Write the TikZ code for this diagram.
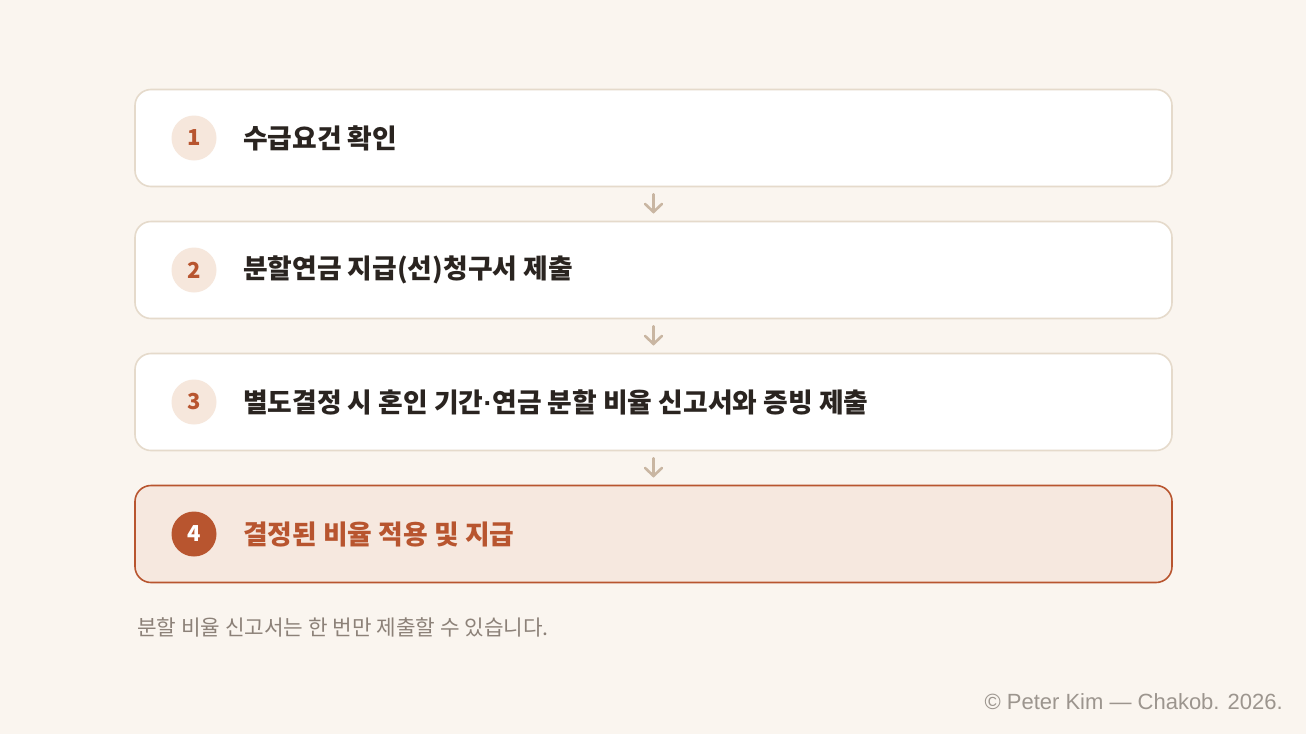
\documentclass[tikz,border=0pt]{standalone}
\usepackage{fontspec}
\setmainfont{Noto Sans CJK KR}
\newfontfamily\footfont{Liberation Sans}
\usetikzlibrary{arrows.meta,positioning}
\definecolor{paper}{HTML}{FAF5EF}
\definecolor{edgegray}{HTML}{E5DACB}
\definecolor{rust}{HTML}{B8552F}
\definecolor{blush}{HTML}{F6E8DF}
\definecolor{badgebg}{HTML}{F6E7DC}
\definecolor{arrowtan}{HTML}{C9B6A2}
\definecolor{inkdark}{HTML}{2A2420}
\definecolor{notegray}{HTML}{8C8178}
\definecolor{footgray}{HTML}{9C958E}
\begin{document}
\begin{tikzpicture}[x=1pt, y=-1pt,
  stepbox/.style={draw=edgegray, line width=1.6pt, fill=white, rounded corners=16pt,
    minimum width=1037pt, minimum height=97pt, inner sep=0pt},
  lastbox/.style={stepbox, draw=rust, fill=blush},
  badge/.style={circle, fill=badgebg, minimum size=45pt, inner sep=0pt,
    text=rust, font=\fontsize{22}{26}\selectfont\bfseries},
  lastbadge/.style={badge, fill=rust, text=white},
  steptext/.style={anchor=west, inner sep=0pt, text=inkdark,
    font=\fontsize{26.8}{30}\selectfont\bfseries},
  flow/.style={draw=arrowtan, line width=2.6pt, line cap=round,
    -{Straight Barb[length=8pt, width=17pt, line cap=round]}}]
 \useasboundingbox[fill=paper] (0,0) rectangle (1306,734);
 % steps
 \node[stepbox] (s1) at (653.5,138) {};
 \node[stepbox] (s2) at (653.5,270) {};
 \node[stepbox] (s3) at (653.5,402) {};
 \node[lastbox] (s4) at (653.5,534) {};
 \node[badge] (b1) at (194,138) {1};
 \node[badge] (b2) at (194,270) {2};
 \node[badge] (b3) at (194,402) {3};
 \node[lastbadge] (b4) at (194,534) {4};
 \node[steptext] (t1) at (243,138) {수급요건 확인};
 \node[steptext] (t2) at (243,270) {분할연금 지급(선)청구서 제출};
 \node[steptext] (t3) at (243,402) {별도결정 시 혼인 기간{\footfont·}연금 분할 비율 신고서와 증빙 제출};
 \node[steptext, text=rust] (t4) at (243,534) {결정된 비율 적용 및 지급};
 % arrows
 \path (s1.south) edge[flow, shorten <=7pt, shorten >=7pt] (s2.north);
 \path (s2.south) edge[flow, shorten <=7pt, shorten >=7pt] (s3.north);
 \path (s3.south) edge[flow, shorten <=7pt, shorten >=7pt] (s4.north);
 % note and footer
 \node[anchor=west, inner sep=0pt, text=notegray, font=\fontsize{21.3}{25}\selectfont]
   (note) at (137,627) {분할 비율 신고서는 한 번만 제출할 수 있습니다.};
 \node[anchor=east, inner sep=0pt, text=footgray, font=\footfont\fontsize{22}{26}\selectfont]
   (foot) at (1283,702) {© Peter Kim — Chakob. 2026.};
\end{tikzpicture}
\end{document}
